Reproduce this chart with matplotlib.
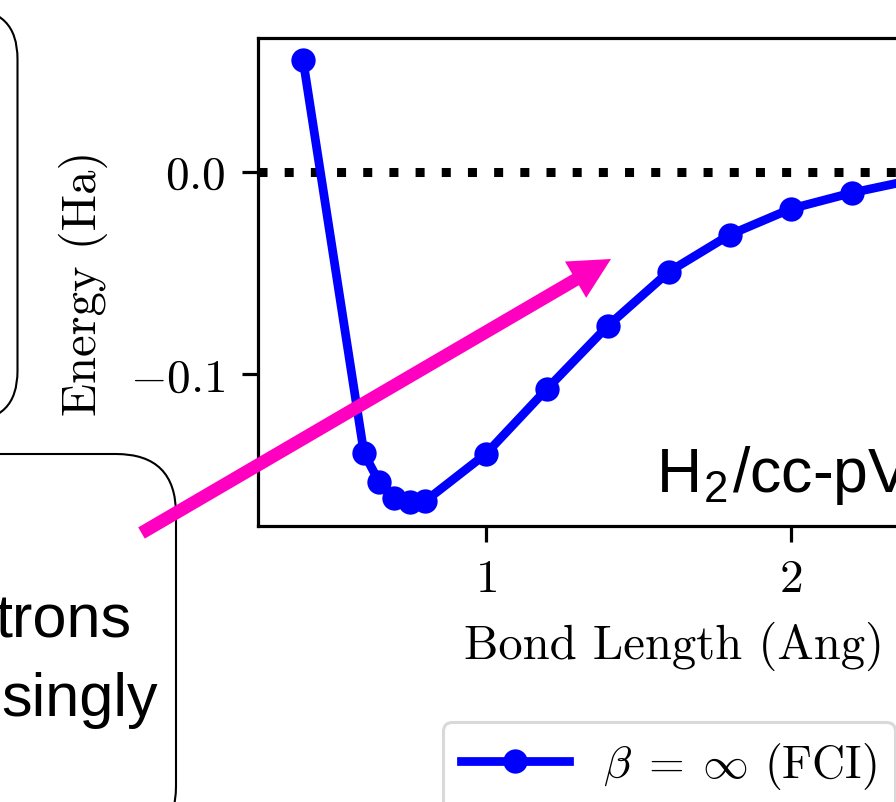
import matplotlib
matplotlib.use("Agg")
import matplotlib.pyplot as plt
from matplotlib.patches import FancyArrow, FancyBboxPatch
from matplotlib.transforms import IdentityTransform

# ---------- data ----------
bond_length = [0.4, 0.6, 0.65, 0.7, 0.75, 0.8, 1.0, 1.2, 1.4, 1.6, 1.8, 2.0, 2.2, 2.4, 2.6, 2.8, 3.0]
energy_fci = [0.0554, -0.1391, -0.1535, -0.1614, -0.1634, -0.1629, -0.1394, -0.1073,
              -0.0761, -0.0494, -0.0311, -0.0183, -0.0104, -0.0040, -0.0020, -0.0010, -0.0005]
fci_label = r"$\beta\;=\;\infty$ (FCI)"
system_label = r"H$_\mathregular{2}$/cc-pVDZ"
box_lines = ["trons", "singly"]

plt.rcParams['font.family'] = 'serif'
plt.rcParams['font.serif'] = ['cmr10']
plt.rcParams['mathtext.fontset'] = 'cm'
plt.rcParams['axes.formatter.use_mathtext'] = True

W, H = 896, 803
fig = plt.figure(figsize=(W / 100, H / 100), dpi=100)

# axes runs past the right edge of the picture (cropped figure)
ax_w = 990.5
ax = fig.add_axes([258 / W, 276 / H, ax_w / W, 488 / H])
ax.axhline(0, color='k', lw=6.5, ls=(0, (1, 1.9)), zorder=1)
ax.plot(bond_length, energy_fci, color='blue', lw=6.3, marker='o', ms=16, mew=1.5,
        label=fci_label, zorder=3)

ax.set_xlim(0.2525, 3.5)
ax.set_ylim(-0.1751, 0.0661)
ax.set_xticks([1, 2, 3])
ax.set_yticks([-0.1, 0.0])
ax.tick_params(labelsize=34, length=11.5, width=2.3, pad=12)
for s in ax.spines.values():
    s.set_linewidth(2.3)
# label centred where the visible one sits, not on the whole (wider) axes
ax.set_xlabel("Bond Length (Ang)", fontsize=35, labelpad=15, x=(673.5 - 258) / ax_w)
ax.set_ylabel("Energy (Ha)", fontsize=35, labelpad=16)

fig.text(656 / W, (H - 492) / H, system_label, family='Liberation Sans',
         fontsize=45, va='baseline', ha='left', zorder=5)

leg = ax.legend(loc='upper left', bbox_to_anchor=(443 / W, 1 - 723 / H),
                bbox_transform=fig.transFigure, borderaxespad=0, fontsize=33,
                handlelength=2.35, handletextpad=0.75, framealpha=1)
leg.get_frame().set_linewidth(2.2)
leg.get_frame().set_edgecolor('0.85')

# rounded boxes from the neighbouring panels (pixel coords, origin bottom left)
idt = IdentityTransform()
box1 = FancyBboxPatch((-500, H - 422), 517.5, 412, boxstyle="round,pad=0,rounding_size=50",
                      fc='none', ec='k', lw=1.5, transform=idt, zorder=2)
box2 = FancyBboxPatch((-500, H - 847), 676, 392, boxstyle="round,pad=0,rounding_size=60",
                      fc='none', ec='k', lw=1.5, transform=idt, zorder=2)
fig.add_artist(box1)
fig.add_artist(box2)

fig.text(131 / W, (H - 638) / H, box_lines[0], family='Liberation Sans', fontsize=44,
         ha='right', va='baseline')
fig.text(158 / W, (H - 716) / H, box_lines[1], family='Liberation Sans', fontsize=44,
         ha='right', va='baseline')

# magenta arrow
tail = (141.5, H - 534)
tip = (611, H - 260)
arrow = FancyArrow(tail[0], tail[1], tip[0] - tail[0], tip[1] - tail[1], width=13,
                   head_width=42, head_length=41, length_includes_head=True,
                   color='#ff00c0', lw=0, transform=idt, zorder=10)
fig.add_artist(arrow)

fig.savefig("out.png", dpi=100)
